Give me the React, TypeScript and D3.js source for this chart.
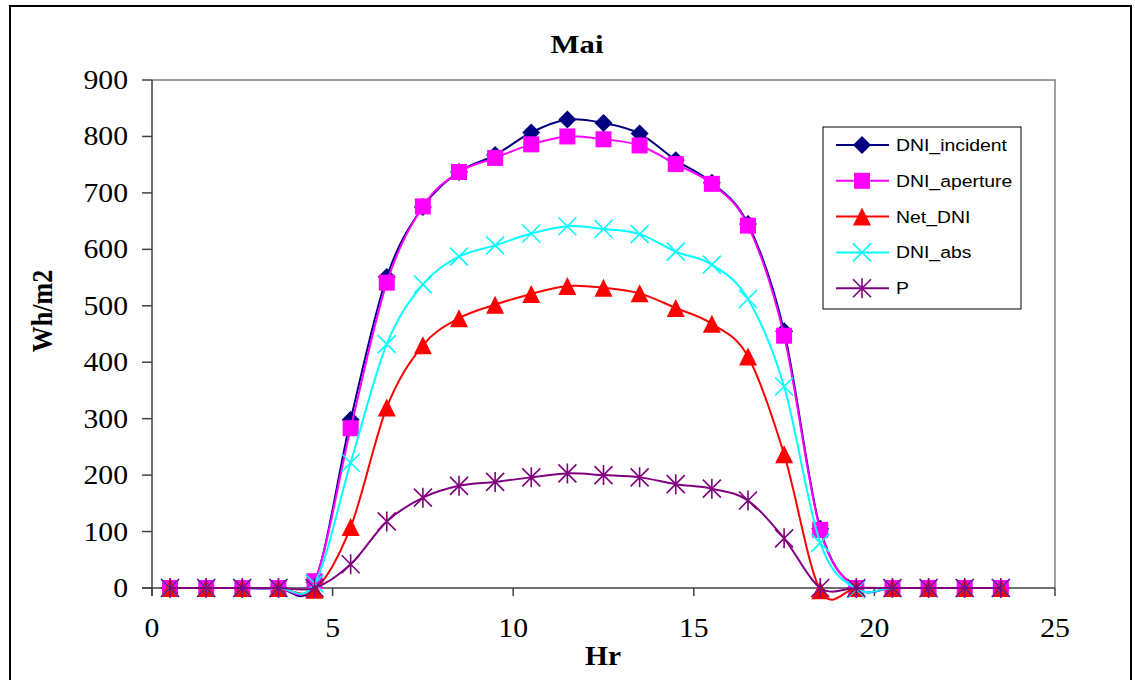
import React from "react";
import * as d3 from "d3";

const hours = [0.5,1.5,2.5,3.5,4.5,5.5,6.5,7.5,8.5,9.5,10.5,11.5,12.5,13.5,14.5,15.5,16.5,17.5,18.5,19.5,20.5,21.5,22.5,23.5];
const dniIncident = [0,0,0,0,10,298,551,675,737,767,807,830,824,805,758,718,645,455,105,0,0,0,0,0];
const dniAperture = [0,0,0,0,12,283,541,676,737,762,786,800,795,784,751,716,642,447,103,0,0,0,0,0];
const netDni = [0,0,0,0,-3,108,320,430,478,502,521,535,532,522,496,468,410,237,-4,0,0,0,0,0];
const dniAbs = [0,0,0,0,8,222,432,538,587,607,628,641,636,627,596,573,512,357,80,-2,0,0,0,0];
const pValues = [0,0,0,0,0,42,118,160,181,188,196,203,200,196,184,176,155,88,0,0,0,0,0,0];
const xTicks = [0,5,10,15,20,25];
const yTicks = [0,100,200,300,400,500,600,700,800,900];

type Series = { name: string; values: number[]; color: string; marker: string };
const seriesList: Series[] = [
  { name: "DNI_incident", values: dniIncident, color: "#000080", marker: "diamond" },
  { name: "DNI_aperture", values: dniAperture, color: "#FF00FF", marker: "square" },
  { name: "Net_DNI", values: netDni, color: "#FF0000", marker: "triangle" },
  { name: "DNI_abs", values: dniAbs, color: "#00FFFF", marker: "x" },
  { name: "P", values: pValues, color: "#800080", marker: "star" },
];

const L = 152, R = 1055, T = 80, B = 588;
const x = d3.scaleLinear().domain([0, 25]).range([L, R]);
const y = d3.scaleLinear().domain([0, 900]).range([B, T]);
const SERIF = "Liberation Serif, Times New Roman, serif";
const SANS = "Liberation Sans, Arial, sans-serif";

function Marker({ kind, cx, cy, color }: { kind: string; cx: number; cy: number; color: string }) {
  if (kind === "diamond") {
    const s = 9;
    return <path d={`M${cx},${cy - s}L${cx + s},${cy}L${cx},${cy + s}L${cx - s},${cy}Z`} fill={color} />;
  }
  if (kind === "square") {
    const s = 8;
    return <rect x={cx - s} y={cy - s} width={2 * s} height={2 * s} fill={color} />;
  }
  if (kind === "triangle") {
    const s = 9;
    return <path d={`M${cx},${cy - s}L${cx + s},${cy + s}L${cx - s},${cy + s}Z`} fill={color} />;
  }
  if (kind === "x") {
    const s = 9;
    return <path d={`M${cx - s},${cy - s}L${cx + s},${cy + s}M${cx - s},${cy + s}L${cx + s},${cy - s}`} stroke={color} strokeWidth={1.6} />;
  }
  const s = 9;
  return (
    <path
      d={`M${cx - s},${cy - s}L${cx + s},${cy + s}M${cx - s},${cy + s}L${cx + s},${cy - s}M${cx},${cy - s - 1}L${cx},${cy + s + 1}`}
      stroke={color}
      strokeWidth={1.6}
    />
  );
}

function SText({ x, y, sx = 1.1, anchor = "start", family, size, weight = "normal", children }: any) {
  return (
    <text
      transform={`translate(${x},${y}) scale(${sx},1)`}
      textAnchor={anchor}
      fontFamily={family}
      fontSize={size}
      fontWeight={weight}
      fill="#000"
    >
      {children}
    </text>
  );
}

export default function App() {
  const line = d3
    .line<number>()
    .x((_, i) => x(hours[i]))
    .y((d) => y(d))
    .curve(d3.curveCardinal.tension(0));

  const legendItems = seriesList.map((s, i) => ({ ...s, yy: 145 + i * 35.8 }));

  return (
    <svg width={1135} height={680} style={{ position: "absolute", left: 0, top: 0, background: "#fff" }}>
      <rect x={0} y={0} width={1135} height={680} fill="#fff" />
      <rect x={10} y={6} width={1121} height={690} fill="none" stroke="#000" strokeWidth={2} />
      <SText x={577} y={53} anchor="middle" family={SERIF} size={26} weight="bold" sx={1.18}>
        Mai
      </SText>
      <path d={`M${L},${T}L${R},${T}L${R},${B}`} fill="none" stroke="#808080" strokeWidth={1.5} />
      <line x1={L} y1={T} x2={L} y2={B + 8} stroke="#404040" strokeWidth={1.5} />
      <line x1={L - 10} y1={B} x2={R} y2={B} stroke="#404040" strokeWidth={1.5} />
      {yTicks.map((t) => (
        <g key={t}>
          <line x1={L - 10} x2={L} y1={y(t)} y2={y(t)} stroke="#404040" strokeWidth={1.5} />
          <SText x={128} y={y(t) + 9} anchor="end" family={SERIF} size={27} sx={1.1}>
            {t}
          </SText>
        </g>
      ))}
      {xTicks.map((t) => (
        <g key={t}>
          <line x1={x(t)} x2={x(t)} y1={B} y2={B + 8} stroke="#404040" strokeWidth={1.5} />
          <SText x={x(t)} y={637} anchor="middle" family={SERIF} size={27} sx={1.1}>
            {t}
          </SText>
        </g>
      ))}
      <SText x={603} y={665} anchor="middle" family={SERIF} size={27} weight="bold" sx={1.09}>
        Hr
      </SText>
      <text
        transform={`translate(52,311) scale(1.1,1) rotate(-90)`}
        textAnchor="middle"
        fontFamily={SERIF}
        fontWeight="bold"
        fontSize={26}
      >
        Wh/m2
      </text>
      {seriesList.map((s) => (
        <g key={s.name}>
          <path d={line(s.values) || ""} fill="none" stroke={s.color} strokeWidth={2} />
          {s.values.map((v, i) => (
            <Marker key={i} kind={s.marker} cx={x(hours[i])} cy={y(v)} color={s.color} />
          ))}
        </g>
      ))}
      <rect x={823} y={127} width={198} height={182} fill="#fff" stroke="#000" strokeWidth={1} />
      {legendItems.map((s) => (
        <g key={s.name}>
          <line x1={836} x2={889} y1={s.yy} y2={s.yy} stroke={s.color} strokeWidth={2} />
          <Marker kind={s.marker} cx={862} cy={s.yy} color={s.color} />
          <SText x={896} y={s.yy + 6} family={SANS} size={17} sx={1.14}>
            {s.name}
          </SText>
        </g>
      ))}
    </svg>
  );
}
